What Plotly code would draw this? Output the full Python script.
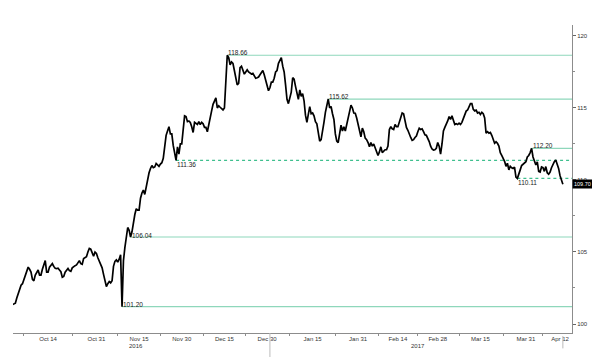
import plotly.graph_objects as go
import pandas as pd

# ---- data ----
start_date = "2016-09-30"
end_date = "2017-04-13"

# readings at 00:00 of each day
day_sep = [101.2]
day_oct = [101.3, 101.35, 101.8, 102.5, 102.8, 103.45, 103.95, 103.6, 103.0, 103.6,
           103.4, 103.8, 104.4, 103.6, 104.05, 104.0, 103.85, 103.75, 103.25, 103.6,
           103.85, 103.65, 104.0, 104.1, 104.4, 104.15, 104.6, 105.0, 105.2, 104.7,
           104.9]
day_nov = [104.4, 103.9, 103.1, 102.8, 102.85, 104.0, 104.45, 104.5, 101.2, 105.3,
           106.7, 106.04, 107.1, 108.0, 107.9, 109.1, 109.0, 110.2, 110.8, 110.85,
           111.15, 110.95, 111.2, 112.5, 113.4, 113.2, 112.4, 111.36, 111.8, 112.5]
day_dec = [114.45, 114.05, 114.0, 113.3, 113.9, 114.05, 114.0, 113.65, 113.35, 114.2,
           115.25, 115.7, 115.15, 114.95, 115.0, 118.66, 118.0, 118.1, 117.1, 116.7,
           117.9, 117.35, 117.65, 117.4, 117.4, 117.06, 117.15, 117.45, 117.3, 116.55,
           116.4]
day_jan = [116.8, 117.5, 118.1, 118.5, 117.5, 115.6, 115.7, 117.1, 116.5, 115.6,
           115.8, 115.5, 114.0, 115.09, 114.65, 114.05, 113.2, 112.8, 114.0, 115.2,
           115.0, 114.6, 113.2, 112.6, 113.8, 113.7, 113.9, 114.75, 115.0, 114.63,
           113.8]
day_feb = [113.0, 113.35, 112.8, 112.3, 112.35, 112.2, 111.7, 112.3, 112.0, 112.1,
           113.5, 113.55, 113.85, 113.7, 114.4, 114.6, 113.65, 113.13, 112.75, 112.95,
           113.35, 113.5, 113.35, 113.1, 112.67, 112.15, 112.1, 112.6]
day_mar = [111.8, 113.4, 113.85, 114.4, 114.45, 113.85, 113.85, 113.85, 114.3, 114.78,
           115.1, 115.3, 114.8, 114.65, 114.55, 114.6, 113.25, 113.25, 113.1, 112.55,
           112.55, 111.9, 111.5, 110.95, 110.7, 110.85, 110.9, 110.11, 110.7, 111.1,
           111.27]
day_apr = [111.7, 112.2, 111.35, 111.25, 110.55, 110.85, 110.93, 110.4, 110.85, 111.27,
           111.1, 110.3, 109.70]

# readings at 12:00 of each day
mid_sep = [101.25]
mid_oct = [101.3, 101.44, 102.15, 102.7, 103.1, 103.6, 103.8, 103.1, 103.4, 103.75,
           103.4, 104.1, 103.6, 103.95, 104.2, 103.87, 103.87, 103.63, 103.3, 103.7,
           103.7, 103.9, 104.05, 104.3, 104.2, 104.55, 104.67, 105.25, 104.9, 105.0,
           104.6]
mid_nov = [104.2, 103.45, 102.6, 102.95, 103.0, 104.35, 104.3, 104.8, 104.4, 106.0,
           106.5, 106.4, 107.6, 107.9, 108.73, 109.3, 109.6, 110.5, 111.0, 110.9,
           111.05, 111.1, 111.5, 113.1, 113.7, 113.2, 111.8, 112.3, 112.5, 113.5]
mid_dec = [114.4, 114.1, 113.7, 114.0, 113.85, 113.85, 113.9, 113.65, 113.9, 114.8,
           115.5, 115.0, 115.05, 114.86, 117.1, 118.5, 118.2, 117.6, 116.6, 117.8,
           117.55, 117.5, 117.5, 117.36, 117.25, 117.1, 117.3, 117.6, 116.9, 116.2,
           116.8]
mid_jan = [117.06, 117.6, 118.35, 117.9, 116.6, 115.3, 116.1, 117.0, 116.0, 116.25,
           116.0, 114.5, 114.55, 114.6, 114.45, 113.9, 112.7, 113.3, 114.7, 115.62,
           115.1, 114.2, 112.7, 113.4, 113.4, 113.4, 114.5, 115.2, 114.65, 114.3,
           113.55]
mid_feb = [113.6, 112.9, 112.6, 112.6, 112.5, 111.9, 111.95, 111.9, 112.1, 112.35,
           113.7, 113.5, 113.7, 114.05, 114.65, 114.1, 113.45, 112.95, 112.8, 113.05,
           113.59, 113.55, 113.13, 112.9, 112.35, 112.08, 112.2, 112.35]
mid_mar = [112.5, 113.65, 114.1, 114.2, 114.1, 113.9, 113.94, 114.0, 114.6, 114.86,
           115.3, 114.9, 114.85, 114.7, 114.7, 114.3, 113.35, 113.3, 112.75, 112.65,
           112.35, 111.7, 111.3, 111.16, 110.95, 110.8, 110.2, 110.5, 111.0, 111.2,
           111.6]
mid_apr = [111.9, 111.6, 111.04, 110.6, 110.9, 110.6, 110.5, 110.55, 111.1, 111.39,
           110.8, 109.9]

level_values = [118.66, 115.62, 112.20, 111.36, 110.11, 106.04, 101.20]
level_starts = ["2016-12-16", "2017-01-20 12:00", "2017-04-02", "2016-11-28",
                "2017-03-28", "2016-11-12", "2016-11-09"]
level_dashed = [False, False, False, True, True, False, False]
level_label_pos = ["above", "above", "above", "below", "below", "on", "on"]

tick_dates = ["2016-10-14", "2016-10-31", "2016-11-15", "2016-11-30", "2016-12-15",
              "2016-12-30", "2017-01-15", "2017-01-31", "2017-02-14", "2017-02-28",
              "2017-03-15", "2017-03-31", "2017-04-12"]
tick_labels = ["Oct 14", "Oct 31", "Nov 15", "Nov 30", "Dec 15", "Dec 30", "Jan 15",
               "Jan 31", "Feb 14", "Feb 28", "Mar 15", "Mar 31", "Apr 12"]
year_labels = ["2016", "2017"]
year_label_dates = ["2016-11-14", "2017-02-21"]
last_value = 109.70

# ---- figure ----
day_vals = day_sep + day_oct + day_nov + day_dec + day_jan + day_feb + day_mar + day_apr
mid_vals = mid_sep + mid_oct + mid_nov + mid_dec + mid_jan + mid_feb + mid_mar + mid_apr
values = []
for d, m in zip(day_vals, mid_vals):
    values += [d, m]
values.append(day_vals[-1])
times = pd.date_range(start_date, end_date, freq="12h")
assert len(times) == len(values)

x_range = ["2016-10-01 16:00", "2017-04-16 05:00"]
FONT = "Liberation Sans, Arial, sans-serif"
SOLID = "#8ed7bb"
DASH = "#3fbf8e"

fig = go.Figure()
fig.add_trace(go.Scatter(x=times, y=values, mode="lines",
                         line=dict(color="#000000", width=1.7),
                         hoverinfo="skip", showlegend=False))

shapes = []
annotations = []
for lv, st, dashed, pos in zip(level_values, level_starts, level_dashed, level_label_pos):
    shapes.append(dict(type="line", xref="x", yref="y", x0=st, x1=x_range[1],
                       y0=lv, y1=lv, layer="below",
                       line=dict(color=DASH if dashed else SOLID, width=1.2,
                                 dash="3px,3px" if dashed else "solid")))
    if pos == "above":
        ya, ys = "bottom", -2
    elif pos == "below":
        ya, ys = "top", 0
    else:
        ya, ys = "middle", 2
    annotations.append(dict(x=st, y=lv, xref="x", yref="y", text=f"{lv:.2f}",
                            showarrow=False, xanchor="left", yanchor=ya, yshift=ys,
                            borderpad=0, font=dict(family=FONT, size=6.5, color="#222222")))

# year labels under the date axis
for yl, yd in zip(year_labels, year_label_dates):
    annotations.append(dict(x=yd, y=0, xref="x", yref="paper", text=yl, showarrow=False,
                            xanchor="center", yanchor="top", yshift=-9, borderpad=0,
                            font=dict(family=FONT, size=6, color="#333333")))

# last value box
annotations.append(dict(x=1, y=last_value, xref="paper", yref="y", text=f"{last_value:.2f}",
                        showarrow=False, xanchor="left", yanchor="middle", xshift=0,
                        bgcolor="#000000", borderpad=1,
                        font=dict(family=FONT, size=5.5, color="#ffffff")))

# small separators below the date axis
shapes.append(dict(type="line", xref="x", yref="paper", x0="2016-12-31", x1="2016-12-31",
                   y0=0, y1=-0.08, line=dict(color="#bbbbbb", width=1)))
shapes.append(dict(type="line", xref="x", yref="paper", x0=end_date, x1=end_date,
                   y0=-0.01, y1=-0.05, line=dict(color="#bbbbbb", width=1)))

tick_ts = pd.to_datetime(tick_dates)
minor_ticks = [tick_ts[0] - (tick_ts[1] - tick_ts[0]) / 2]
minor_ticks += [tick_ts[i] + (tick_ts[i + 1] - tick_ts[i]) / 2 for i in range(len(tick_ts) - 1)]

# the page body has an 8px default margin, so the figure is sized to fit the window
fig.update_layout(
    width=592, height=349,
    margin=dict(l=5, r=28, t=17, b=24),
    paper_bgcolor="white", plot_bgcolor="white",
    shapes=shapes, annotations=annotations,
    font=dict(family=FONT, size=6, color="#333333"),
    xaxis=dict(type="date", range=x_range, tickmode="array", tickvals=tick_dates,
               ticktext=tick_labels, ticks="", showgrid=False, zeroline=False,
               showline=True, linecolor="#8c8c8c", linewidth=1,
               tickfont=dict(family=FONT, size=6, color="#333333"),
               minor=dict(tickmode="array", tickvals=minor_ticks, ticks="outside",
                          ticklen=2, tickcolor="#8c8c8c", showgrid=False)),
    yaxis=dict(side="right", range=[99.375, 120.76], tickmode="array",
               tickvals=[100, 105, 110, 115, 120], ticks="outside", ticklen=3,
               tickcolor="#666666", showgrid=False, zeroline=False,
               showline=True, linecolor="#8c8c8c", linewidth=1,
               tickfont=dict(family=FONT, size=6, color="#333333"),
               minor=dict(dtick=2.5, tick0=100, ticks="outside", ticklen=2,
                          tickcolor="#8c8c8c", showgrid=False)),
)

fig.write_html("out.html")
